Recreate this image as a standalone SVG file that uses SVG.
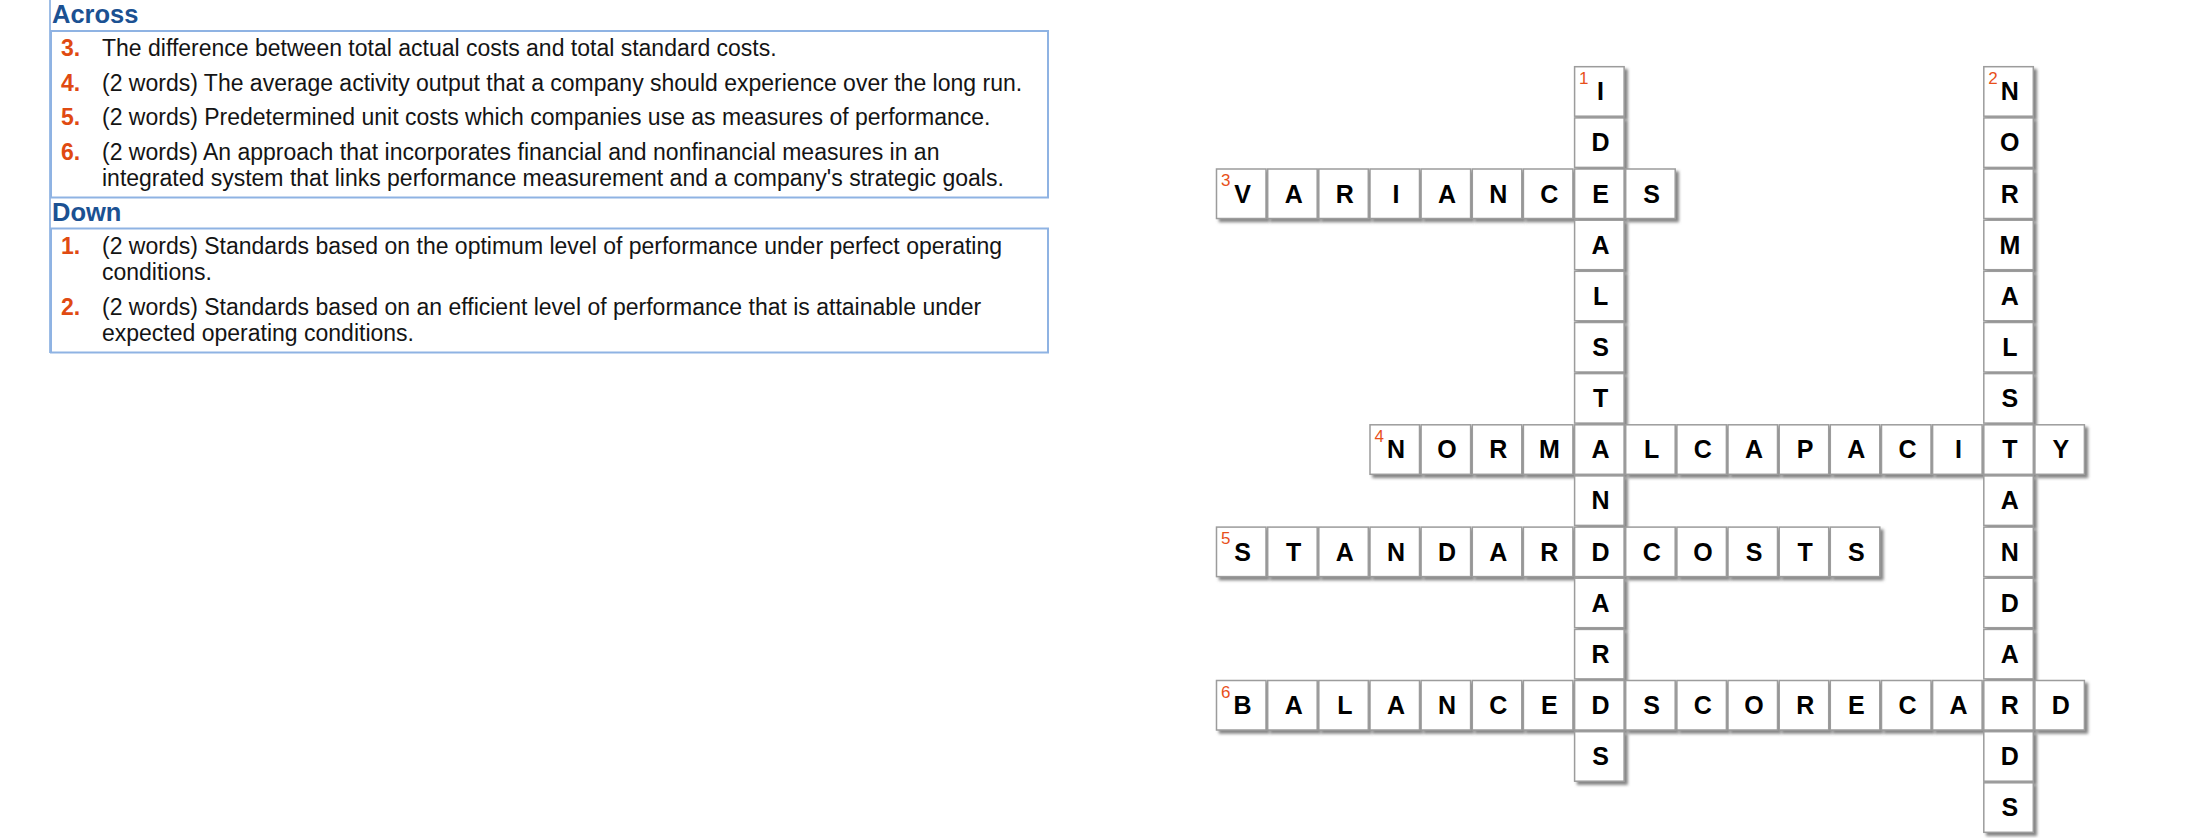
<svg xmlns="http://www.w3.org/2000/svg" width="2200" height="838" viewBox="0 0 2200 838">
<defs>
<style>
.hd{font-family:"Liberation Sans",Arial,sans-serif;font-weight:bold;font-size:25.5px;fill:#1b5192}
.num{font-family:"Liberation Sans",Arial,sans-serif;font-weight:bold;font-size:23px;fill:#e04a12}
.clue{font-family:"Liberation Sans",Arial,sans-serif;font-size:23px;fill:#141414}
.box{fill:#ffffff;stroke:#8fb3e3;stroke-width:2}
.cell{fill:#ffffff;stroke:#9c9c9c;stroke-width:1.5;filter:url(#sh)}
.ltr{font-family:"Liberation Sans",Arial,sans-serif;font-weight:bold;font-size:25px;fill:#000000;text-anchor:middle}
.cn{font-family:"Liberation Sans",Arial,sans-serif;font-size:17px;fill:#e8501a}
</style>
<filter id="sh" x="-20%" y="-20%" width="150%" height="150%">
<feDropShadow dx="3" dy="3" stdDeviation="1.6" flood-color="#666666" flood-opacity="0.8"/>
</filter>
</defs>
<rect width="2200" height="838" fill="#ffffff"/>

<g id="clues">
<line x1="50" y1="0" x2="50" y2="353" stroke="#9dbde6" stroke-width="2"/>
<text class="hd" x="52" y="23">Across</text>
<rect class="box" x="51" y="31" width="997" height="166.5"/>
<text class="num" x="61" y="56">3.</text><text class="clue" x="102" y="56">The difference between total actual costs and total standard costs.</text>
<text class="num" x="61" y="90.7">4.</text><text class="clue" x="102" y="90.7">(2 words) The average activity output that a company should experience over the long run.</text>
<text class="num" x="61" y="125.3">5.</text><text class="clue" x="102" y="125.3">(2 words) Predetermined unit costs which companies use as measures of performance.</text>
<text class="num" x="61" y="160">6.</text><text class="clue" x="102" y="160">(2 words) An approach that incorporates financial and nonfinancial measures in an</text>
<text class="clue" x="102" y="186">integrated system that links performance measurement and a company's strategic goals.</text>
<text class="hd" x="52" y="221">Down</text>
<rect class="box" x="51" y="228.5" width="997" height="124"/>
<text class="num" x="61" y="254">1.</text><text class="clue" x="102" y="254">(2 words) Standards based on the optimum level of performance under perfect operating</text>
<text class="clue" x="102" y="280">conditions.</text>
<text class="num" x="61" y="315">2.</text><text class="clue" x="102" y="315">(2 words) Standards based on an efficient level of performance that is attainable under</text>
<text class="clue" x="102" y="341">expected operating conditions.</text>
</g>

<g id="connectors"></g>

<g id="grid">
<g id="c0-7" transform="translate(1574.6,66.7)"><rect class="cell" width="49.5" height="49.5"/><text class="cn" x="4.5" y="17">1</text><text class="ltr" x="26" y="33.5">I</text></g>
<g id="c0-15" transform="translate(1983.8,66.7)"><rect class="cell" width="49.5" height="49.5"/><text class="cn" x="4.5" y="17">2</text><text class="ltr" x="26" y="33.5">N</text></g>
<g id="c1-7" transform="translate(1574.6,117.9)"><rect class="cell" width="49.5" height="49.5"/><text class="ltr" x="26" y="33.5">D</text></g>
<g id="c1-15" transform="translate(1983.8,117.9)"><rect class="cell" width="49.5" height="49.5"/><text class="ltr" x="26" y="33.5">O</text></g>
<g id="c2-0" transform="translate(1216.5,169)"><rect class="cell" width="49.5" height="49.5"/><text class="cn" x="4.5" y="17">3</text><text class="ltr" x="26" y="33.5">V</text></g>
<g id="c2-1" transform="translate(1267.7,169)"><rect class="cell" width="49.5" height="49.5"/><text class="ltr" x="26" y="33.5">A</text></g>
<g id="c2-2" transform="translate(1318.8,169)"><rect class="cell" width="49.5" height="49.5"/><text class="ltr" x="26" y="33.5">R</text></g>
<g id="c2-3" transform="translate(1370,169)"><rect class="cell" width="49.5" height="49.5"/><text class="ltr" x="26" y="33.5">I</text></g>
<g id="c2-4" transform="translate(1421.1,169)"><rect class="cell" width="49.5" height="49.5"/><text class="ltr" x="26" y="33.5">A</text></g>
<g id="c2-5" transform="translate(1472.3,169)"><rect class="cell" width="49.5" height="49.5"/><text class="ltr" x="26" y="33.5">N</text></g>
<g id="c2-6" transform="translate(1523.4,169)"><rect class="cell" width="49.5" height="49.5"/><text class="ltr" x="26" y="33.5">C</text></g>
<g id="c2-7" transform="translate(1574.6,169)"><rect class="cell" width="49.5" height="49.5"/><text class="ltr" x="26" y="33.5">E</text></g>
<g id="c2-8" transform="translate(1625.7,169)"><rect class="cell" width="49.5" height="49.5"/><text class="ltr" x="26" y="33.5">S</text></g>
<g id="c2-15" transform="translate(1983.8,169)"><rect class="cell" width="49.5" height="49.5"/><text class="ltr" x="26" y="33.5">R</text></g>
<g id="c3-7" transform="translate(1574.6,220.2)"><rect class="cell" width="49.5" height="49.5"/><text class="ltr" x="26" y="33.5">A</text></g>
<g id="c3-15" transform="translate(1983.8,220.2)"><rect class="cell" width="49.5" height="49.5"/><text class="ltr" x="26" y="33.5">M</text></g>
<g id="c4-7" transform="translate(1574.6,271.3)"><rect class="cell" width="49.5" height="49.5"/><text class="ltr" x="26" y="33.5">L</text></g>
<g id="c4-15" transform="translate(1983.8,271.3)"><rect class="cell" width="49.5" height="49.5"/><text class="ltr" x="26" y="33.5">A</text></g>
<g id="c5-7" transform="translate(1574.6,322.5)"><rect class="cell" width="49.5" height="49.5"/><text class="ltr" x="26" y="33.5">S</text></g>
<g id="c5-15" transform="translate(1983.8,322.5)"><rect class="cell" width="49.5" height="49.5"/><text class="ltr" x="26" y="33.5">L</text></g>
<g id="c6-7" transform="translate(1574.6,373.6)"><rect class="cell" width="49.5" height="49.5"/><text class="ltr" x="26" y="33.5">T</text></g>
<g id="c6-15" transform="translate(1983.8,373.6)"><rect class="cell" width="49.5" height="49.5"/><text class="ltr" x="26" y="33.5">S</text></g>
<g id="c7-3" transform="translate(1370,424.8)"><rect class="cell" width="49.5" height="49.5"/><text class="cn" x="4.5" y="17">4</text><text class="ltr" x="26" y="33.5">N</text></g>
<g id="c7-4" transform="translate(1421.1,424.8)"><rect class="cell" width="49.5" height="49.5"/><text class="ltr" x="26" y="33.5">O</text></g>
<g id="c7-5" transform="translate(1472.3,424.8)"><rect class="cell" width="49.5" height="49.5"/><text class="ltr" x="26" y="33.5">R</text></g>
<g id="c7-6" transform="translate(1523.4,424.8)"><rect class="cell" width="49.5" height="49.5"/><text class="ltr" x="26" y="33.5">M</text></g>
<g id="c7-7" transform="translate(1574.6,424.8)"><rect class="cell" width="49.5" height="49.5"/><text class="ltr" x="26" y="33.5">A</text></g>
<g id="c7-8" transform="translate(1625.7,424.8)"><rect class="cell" width="49.5" height="49.5"/><text class="ltr" x="26" y="33.5">L</text></g>
<g id="c7-9" transform="translate(1676.9,424.8)"><rect class="cell" width="49.5" height="49.5"/><text class="ltr" x="26" y="33.5">C</text></g>
<g id="c7-10" transform="translate(1728,424.8)"><rect class="cell" width="49.5" height="49.5"/><text class="ltr" x="26" y="33.5">A</text></g>
<g id="c7-11" transform="translate(1779.2,424.8)"><rect class="cell" width="49.5" height="49.5"/><text class="ltr" x="26" y="33.5">P</text></g>
<g id="c7-12" transform="translate(1830.3,424.8)"><rect class="cell" width="49.5" height="49.5"/><text class="ltr" x="26" y="33.5">A</text></g>
<g id="c7-13" transform="translate(1881.5,424.8)"><rect class="cell" width="49.5" height="49.5"/><text class="ltr" x="26" y="33.5">C</text></g>
<g id="c7-14" transform="translate(1932.6,424.8)"><rect class="cell" width="49.5" height="49.5"/><text class="ltr" x="26" y="33.5">I</text></g>
<g id="c7-15" transform="translate(1983.8,424.8)"><rect class="cell" width="49.5" height="49.5"/><text class="ltr" x="26" y="33.5">T</text></g>
<g id="c7-16" transform="translate(2034.9,424.8)"><rect class="cell" width="49.5" height="49.5"/><text class="ltr" x="26" y="33.5">Y</text></g>
<g id="c8-7" transform="translate(1574.6,475.9)"><rect class="cell" width="49.5" height="49.5"/><text class="ltr" x="26" y="33.5">N</text></g>
<g id="c8-15" transform="translate(1983.8,475.9)"><rect class="cell" width="49.5" height="49.5"/><text class="ltr" x="26" y="33.5">A</text></g>
<g id="c9-0" transform="translate(1216.5,527.1)"><rect class="cell" width="49.5" height="49.5"/><text class="cn" x="4.5" y="17">5</text><text class="ltr" x="26" y="33.5">S</text></g>
<g id="c9-1" transform="translate(1267.7,527.1)"><rect class="cell" width="49.5" height="49.5"/><text class="ltr" x="26" y="33.5">T</text></g>
<g id="c9-2" transform="translate(1318.8,527.1)"><rect class="cell" width="49.5" height="49.5"/><text class="ltr" x="26" y="33.5">A</text></g>
<g id="c9-3" transform="translate(1370,527.1)"><rect class="cell" width="49.5" height="49.5"/><text class="ltr" x="26" y="33.5">N</text></g>
<g id="c9-4" transform="translate(1421.1,527.1)"><rect class="cell" width="49.5" height="49.5"/><text class="ltr" x="26" y="33.5">D</text></g>
<g id="c9-5" transform="translate(1472.3,527.1)"><rect class="cell" width="49.5" height="49.5"/><text class="ltr" x="26" y="33.5">A</text></g>
<g id="c9-6" transform="translate(1523.4,527.1)"><rect class="cell" width="49.5" height="49.5"/><text class="ltr" x="26" y="33.5">R</text></g>
<g id="c9-7" transform="translate(1574.6,527.1)"><rect class="cell" width="49.5" height="49.5"/><text class="ltr" x="26" y="33.5">D</text></g>
<g id="c9-8" transform="translate(1625.7,527.1)"><rect class="cell" width="49.5" height="49.5"/><text class="ltr" x="26" y="33.5">C</text></g>
<g id="c9-9" transform="translate(1676.9,527.1)"><rect class="cell" width="49.5" height="49.5"/><text class="ltr" x="26" y="33.5">O</text></g>
<g id="c9-10" transform="translate(1728,527.1)"><rect class="cell" width="49.5" height="49.5"/><text class="ltr" x="26" y="33.5">S</text></g>
<g id="c9-11" transform="translate(1779.2,527.1)"><rect class="cell" width="49.5" height="49.5"/><text class="ltr" x="26" y="33.5">T</text></g>
<g id="c9-12" transform="translate(1830.3,527.1)"><rect class="cell" width="49.5" height="49.5"/><text class="ltr" x="26" y="33.5">S</text></g>
<g id="c9-15" transform="translate(1983.8,527.1)"><rect class="cell" width="49.5" height="49.5"/><text class="ltr" x="26" y="33.5">N</text></g>
<g id="c10-7" transform="translate(1574.6,578.2)"><rect class="cell" width="49.5" height="49.5"/><text class="ltr" x="26" y="33.5">A</text></g>
<g id="c10-15" transform="translate(1983.8,578.2)"><rect class="cell" width="49.5" height="49.5"/><text class="ltr" x="26" y="33.5">D</text></g>
<g id="c11-7" transform="translate(1574.6,629.4)"><rect class="cell" width="49.5" height="49.5"/><text class="ltr" x="26" y="33.5">R</text></g>
<g id="c11-15" transform="translate(1983.8,629.4)"><rect class="cell" width="49.5" height="49.5"/><text class="ltr" x="26" y="33.5">A</text></g>
<g id="c12-0" transform="translate(1216.5,680.5)"><rect class="cell" width="49.5" height="49.5"/><text class="cn" x="4.5" y="17">6</text><text class="ltr" x="26" y="33.5">B</text></g>
<g id="c12-1" transform="translate(1267.7,680.5)"><rect class="cell" width="49.5" height="49.5"/><text class="ltr" x="26" y="33.5">A</text></g>
<g id="c12-2" transform="translate(1318.8,680.5)"><rect class="cell" width="49.5" height="49.5"/><text class="ltr" x="26" y="33.5">L</text></g>
<g id="c12-3" transform="translate(1370,680.5)"><rect class="cell" width="49.5" height="49.5"/><text class="ltr" x="26" y="33.5">A</text></g>
<g id="c12-4" transform="translate(1421.1,680.5)"><rect class="cell" width="49.5" height="49.5"/><text class="ltr" x="26" y="33.5">N</text></g>
<g id="c12-5" transform="translate(1472.3,680.5)"><rect class="cell" width="49.5" height="49.5"/><text class="ltr" x="26" y="33.5">C</text></g>
<g id="c12-6" transform="translate(1523.4,680.5)"><rect class="cell" width="49.5" height="49.5"/><text class="ltr" x="26" y="33.5">E</text></g>
<g id="c12-7" transform="translate(1574.6,680.5)"><rect class="cell" width="49.5" height="49.5"/><text class="ltr" x="26" y="33.5">D</text></g>
<g id="c12-8" transform="translate(1625.7,680.5)"><rect class="cell" width="49.5" height="49.5"/><text class="ltr" x="26" y="33.5">S</text></g>
<g id="c12-9" transform="translate(1676.9,680.5)"><rect class="cell" width="49.5" height="49.5"/><text class="ltr" x="26" y="33.5">C</text></g>
<g id="c12-10" transform="translate(1728,680.5)"><rect class="cell" width="49.5" height="49.5"/><text class="ltr" x="26" y="33.5">O</text></g>
<g id="c12-11" transform="translate(1779.2,680.5)"><rect class="cell" width="49.5" height="49.5"/><text class="ltr" x="26" y="33.5">R</text></g>
<g id="c12-12" transform="translate(1830.3,680.5)"><rect class="cell" width="49.5" height="49.5"/><text class="ltr" x="26" y="33.5">E</text></g>
<g id="c12-13" transform="translate(1881.5,680.5)"><rect class="cell" width="49.5" height="49.5"/><text class="ltr" x="26" y="33.5">C</text></g>
<g id="c12-14" transform="translate(1932.6,680.5)"><rect class="cell" width="49.5" height="49.5"/><text class="ltr" x="26" y="33.5">A</text></g>
<g id="c12-15" transform="translate(1983.8,680.5)"><rect class="cell" width="49.5" height="49.5"/><text class="ltr" x="26" y="33.5">R</text></g>
<g id="c12-16" transform="translate(2034.9,680.5)"><rect class="cell" width="49.5" height="49.5"/><text class="ltr" x="26" y="33.5">D</text></g>
<g id="c13-7" transform="translate(1574.6,731.7)"><rect class="cell" width="49.5" height="49.5"/><text class="ltr" x="26" y="33.5">S</text></g>
<g id="c13-15" transform="translate(1983.8,731.7)"><rect class="cell" width="49.5" height="49.5"/><text class="ltr" x="26" y="33.5">D</text></g>
<g id="c14-15" transform="translate(1983.8,782.8)"><rect class="cell" width="49.5" height="49.5"/><text class="ltr" x="26" y="33.5">S</text></g>
</g>
</svg>
